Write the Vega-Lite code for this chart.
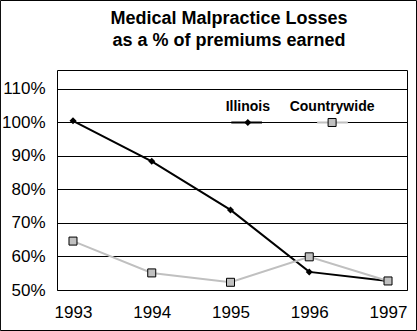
{
  "$schema": "https://vega.github.io/schema/vega-lite/v6.json",
  "width": 350,
  "height": 220,
  "autosize": {"type": "none"},
  "padding": {"left": 57, "top": 70, "right": 10, "bottom": 41},
  "background": "white",
  "config": {
    "view": {"stroke": "black", "strokeWidth": 1},
    "font": "Liberation Sans"
  },
  "title": {
    "text": ["Medical Malpractice Losses", "as a % of premiums earned"],
    "fontSize": 18,
    "fontWeight": "bold",
    "font": "Liberation Sans",
    "color": "black",
    "anchor": "middle",
    "frame": "group",
    "offset": -50,
    "dx": -3,
    "lineHeight": 22
  },
  "data": {
    "values": [
      {"year": 1993, "series": "Illinois", "pct": 100.5},
      {"year": 1994, "series": "Illinois", "pct": 88.4},
      {"year": 1995, "series": "Illinois", "pct": 73.9},
      {"year": 1996, "series": "Illinois", "pct": 55.4},
      {"year": 1997, "series": "Illinois", "pct": 52.7},
      {"year": 1993, "series": "Countrywide", "pct": 64.6},
      {"year": 1994, "series": "Countrywide", "pct": 55.1},
      {"year": 1995, "series": "Countrywide", "pct": 52.3},
      {"year": 1996, "series": "Countrywide", "pct": 59.9},
      {"year": 1997, "series": "Countrywide", "pct": 52.7}
    ]
  },
  "layer": [
    {
      "encoding": {
        "x": {
          "field": "year",
          "type": "quantitative",
          "scale": {"domain": [1992.797, 1997.241], "nice": false, "zero": false},
          "axis": {
            "values": [1993, 1994, 1995, 1996, 1997],
            "tickCount": 10,
            "format": "d",
            "title": null,
            "grid": false,
            "ticks": false,
            "domain": false,
            "labelPadding": 14,
            "labelFontSize": 17,
            "labelColor": "black",
            "labelFont": "Liberation Sans",
            "labelFlush": false,
            "labelOverlap": false
          }
        },
        "y": {
          "field": "pct",
          "type": "quantitative",
          "scale": {"domain": [50, 115.67], "nice": false, "zero": false},
          "axis": {
            "values": [50, 60, 70, 80, 90, 100, 110],
            "tickCount": 10,
            "labelExpr": "datum.value + '%'",
            "title": null,
            "grid": true,
            "gridColor": "black",
            "gridOpacity": 1,
            "gridWidth": 1,
            "ticks": false,
            "domain": false,
            "labelPadding": 12,
            "labelFontSize": 17,
            "labelColor": "black",
            "labelFont": "Liberation Sans",
            "labelFlush": false,
            "labelOverlap": false
          }
        }
      },
      "layer": [
        {
          "transform": [{"filter": "datum.series === 'Illinois'"}],
          "mark": {"type": "line", "color": "black", "strokeWidth": 2}
        },
        {
          "transform": [{"filter": "datum.series === 'Illinois'"}],
          "mark": {"type": "point", "shape": "diamond", "filled": true, "color": "black", "size": 49, "opacity": 1}
        },
        {
          "transform": [{"filter": "datum.series === 'Countrywide'"}],
          "mark": {"type": "line", "color": "#c0c0c0", "strokeWidth": 2}
        },
        {
          "transform": [{"filter": "datum.series === 'Countrywide'"}],
          "mark": {"type": "point", "shape": "square", "filled": true, "fill": "#c0c0c0", "stroke": "black", "strokeWidth": 1, "size": 64, "opacity": 1}
        }
      ]
    },
    {
      "data": {"values": [{}]},
      "mark": {"type": "rule", "color": "black", "strokeWidth": 2},
      "encoding": {
        "x": {"datum": 1995.01, "type": "quantitative"},
        "x2": {"datum": 1995.40},
        "y": {"datum": 100, "type": "quantitative"}
      }
    },
    {
      "data": {"values": [{}]},
      "mark": {"type": "point", "shape": "diamond", "filled": true, "color": "black", "size": 49, "opacity": 1},
      "encoding": {
        "x": {"datum": 1995.22, "type": "quantitative"},
        "y": {"datum": 100, "type": "quantitative"}
      }
    },
    {
      "data": {"values": [{}]},
      "mark": {"type": "text", "text": "Illinois", "fontSize": 14, "fontWeight": "bold", "font": "Liberation Sans", "color": "black", "align": "center", "baseline": "middle"},
      "encoding": {
        "x": {"datum": 1995.22, "type": "quantitative"},
        "y": {"datum": 104.6, "type": "quantitative"}
      }
    },
    {
      "data": {"values": [{}]},
      "mark": {"type": "rule", "color": "#c0c0c0", "strokeWidth": 2},
      "encoding": {
        "x": {"datum": 1996.10, "type": "quantitative"},
        "x2": {"datum": 1996.49},
        "y": {"datum": 100, "type": "quantitative"}
      }
    },
    {
      "data": {"values": [{}]},
      "mark": {"type": "point", "shape": "square", "filled": true, "fill": "#c0c0c0", "stroke": "black", "strokeWidth": 1, "size": 64, "opacity": 1},
      "encoding": {
        "x": {"datum": 1996.29, "type": "quantitative"},
        "y": {"datum": 100, "type": "quantitative"}
      }
    },
    {
      "data": {"values": [{}]},
      "mark": {"type": "text", "text": "Countrywide", "fontSize": 14, "fontWeight": "bold", "font": "Liberation Sans", "color": "black", "align": "center", "baseline": "middle"},
      "encoding": {
        "x": {"datum": 1996.29, "type": "quantitative"},
        "y": {"datum": 104.6, "type": "quantitative"}
      }
    },
    {
      "data": {"values": [{}]},
      "mark": {"type": "rect", "fill": null, "filled": false, "stroke": "black", "strokeWidth": 1, "clip": false},
      "encoding": {
        "x": {"datum": 1992.079, "type": "quantitative"},
        "x2": {"datum": 1997.362},
        "y": {"datum": 136.42, "type": "quantitative"},
        "y2": {"datum": 37.91}
      }
    }
  ]
}
